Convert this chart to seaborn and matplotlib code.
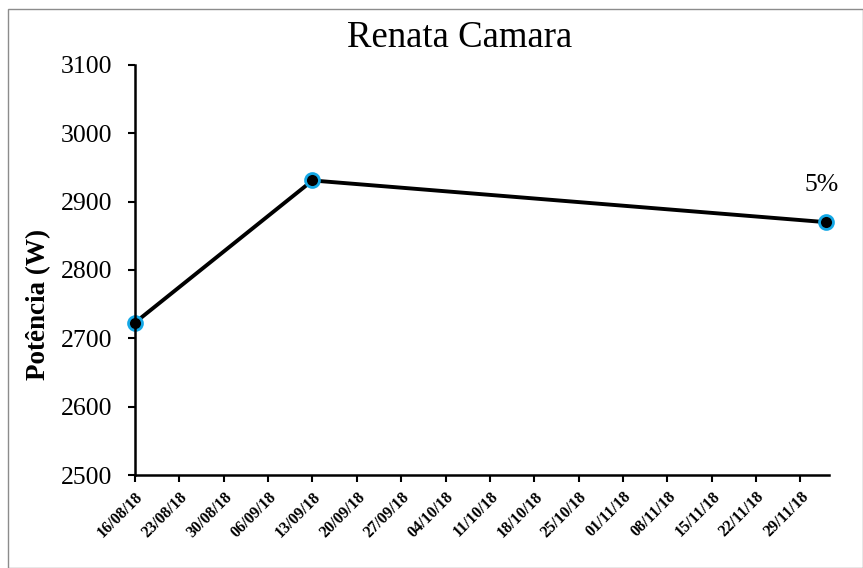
import pandas as pd
import seaborn as sns
import matplotlib.pyplot as plt
import matplotlib.dates as mdates
import matplotlib.patches as mpatches

# --- data ---
datas = ["2018-08-16", "2018-09-13", "2018-12-03"]
potencia = [2723, 2931, 2870]
rotulo_final = "5%"

df = pd.DataFrame({"Data": pd.to_datetime(datas), "Potencia": potencia})

sns.set_style("ticks")
plt.rcParams["font.family"] = ["Liberation Serif", "DejaVu Serif"]
plt.rcParams.update({"text.color": "black", "axes.labelcolor": "black",
                     "xtick.color": "black", "ytick.color": "black"})

fig = plt.figure(figsize=(8.63, 5.68), dpi=100)
ax = fig.add_axes([0.1564, 0.1637, 0.8042, 0.7219])

sns.lineplot(
    data=df, x="Data", y="Potencia", ax=ax,
    color="black", linewidth=2.8,
    marker="o", markersize=10, markerfacecolor="black",
    markeredgecolor="#14a8e6", markeredgewidth=2, clip_on=False,
)

# axes limits / ticks
ax.set_ylim(2500, 3100)
ax.set_yticks(range(2500, 3101, 100))
ax.set_xlim(pd.Timestamp("2018-08-16"), pd.Timestamp("2018-12-03 12:00"))
semanas = pd.date_range("2018-08-16", "2018-11-29", freq="7D")
ax.set_xticks(semanas)
ax.xaxis.set_major_formatter(mdates.DateFormatter("%d/%m/%y"))

for lbl in ax.get_xticklabels():
    lbl.set_rotation(45)
    lbl.set_ha("right")
    lbl.set_rotation_mode("anchor")
    lbl.set_fontweight("bold")
    lbl.set_fontsize(11.5)
ax.tick_params(axis="y", labelsize=18.5, width=1.5, length=5, pad=11.5)
ax.tick_params(axis="x", width=1.5, length=5, pad=5)

sns.despine(ax=ax)
for s in ["left", "bottom"]:
    ax.spines[s].set_linewidth(1.8)
    ax.spines[s].set_color("black")

ax.set_xlabel("")
ax.set_ylabel("Potência (W)", fontsize=19.5, fontweight="bold")
ax.yaxis.set_label_coords(-0.121, 0.415)
ax.set_title("Renata Camara", fontsize=26.5, x=0.468, y=1.0439, pad=0,
             va="baseline")

# label over the last point
ax.annotate(rotulo_final, (df["Data"].iloc[-1], df["Potencia"].iloc[-1]),
            xytext=(-3, 19), textcoords="offset points",
            ha="center", va="bottom", fontsize=18.5)

# outer frame like the spreadsheet chart area
fig.patches.append(mpatches.Rectangle((0.0095, 0.0), 0.99, 0.985,
                                      transform=fig.transFigure, fill=False,
                                      edgecolor="#8c8c8c", linewidth=1))

fig.savefig("out.png", dpi=100)
